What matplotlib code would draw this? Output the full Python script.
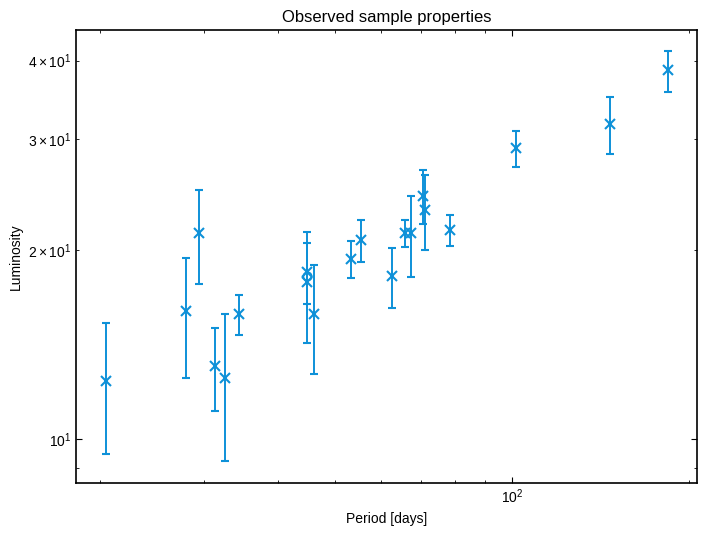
import matplotlib
matplotlib.use("Agg")
import matplotlib.pyplot as plt
from matplotlib.ticker import FuncFormatter
import numpy as np

plt.rcParams['font.family'] = ['Liberation Sans', 'DejaVu Sans']
plt.rcParams['mathtext.fontset'] = 'custom'
plt.rcParams['mathtext.rm'] = 'Liberation Sans'
plt.rcParams['mathtext.it'] = 'Liberation Sans:italic'
plt.rcParams['mathtext.bf'] = 'Liberation Sans:bold'

period = [20.5, 27.95, 29.4, 31.3, 32.6, 34.4, 44.8, 44.8, 46.2, 53.3, 55.5,
          62.5, 65.7, 67.4, 70.7, 71.3, 78.6, 101.7, 146.9, 183.6]
lum = [12.38, 15.97, 21.28, 13.06, 12.52, 15.82, 18.47, 17.77, 15.82, 19.37, 20.74,
       18.16, 21.26, 21.26, 24.36, 23.12, 21.49, 29.01, 31.68, 38.61]
lum_err = [2.9, 3.45, 3.65, 1.97, 3.3, 1.17, 2.05, 3.57, 3.1, 1.33, 1.6,
           1.96, 1.02, 3.15, 2.4, 3.15, 1.22, 1.9, 3.3, 2.9]
circ_period = [44.8]
circ_lum = [18.18]

color = '#0e91d8'

fig = plt.figure(figsize=(7.07, 5.34), dpi=100)
ax = fig.add_axes([0.1075, 0.0955, 0.8784, 0.8483])
ax.errorbar(period, lum, yerr=lum_err, fmt='x', color=color, ecolor=color,
            elinewidth=1.4, capsize=3, capthick=1.4, markersize=6.5, mew=1.5)
ax.plot(circ_period, circ_lum, 'o', mfc='none', mec=color, markersize=6, mew=1.3)
ax.set_xscale('log')
ax.set_yscale('log')
ax.set_xlim(18.2, 206)
ax.set_ylim(8.52, 44.75)

def minor_fmt(v, pos):
    if v < 15:
        return ''
    m = int(round(v / 10))
    return r'$\mathdefault{%d\times10^{1}}$' % m

ax.yaxis.set_minor_formatter(FuncFormatter(minor_fmt))
ax.tick_params(which='both', direction='in', top=True, right=True, labelsize=10)
ax.tick_params(which='major', length=4, width=0.8)
ax.tick_params(which='minor', length=2.5, width=0.6)
for s in ax.spines.values():
    s.set_linewidth(1.2)
ax.set_title('Observed sample properties', fontsize=12)
ax.set_xlabel('Period [days]', fontsize=10)
ax.set_ylabel('Luminosity', fontsize=10)
fig.savefig('out.png', dpi=100)
